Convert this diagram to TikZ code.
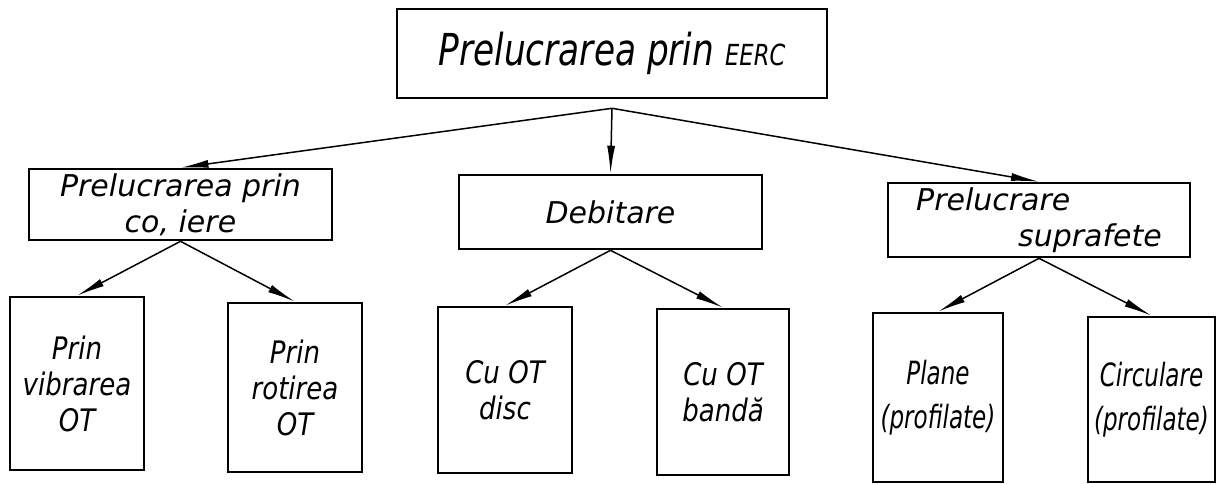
\documentclass[tikz,border=0pt]{standalone}
\usepackage{fontspec}
\setmainfont{DejaVu Sans}
% narrow variants for the tall lettering
\newfontfamily\rootfont{DejaVu Sans}[FakeStretch=0.78]
\newfontfamily\leaffont{DejaVu Sans}[FakeStretch=0.84]
\newfontfamily\profont{DejaVu Sans}[FakeStretch=0.72]
\usetikzlibrary{arrows.meta}
\begin{document}
\begin{tikzpicture}[x=1pt,y=-1pt,
  box/.style={draw, line width=2.6pt, inner sep=0pt, align=center},
  lvlzero/.style={box, font=\rootfont\fontsize{44}{50}\selectfont\itshape},
  lvlone/.style={box, font=\fontsize{30}{36}\selectfont\itshape},
  lvltwo/.style={box, font=\leaffont\fontsize{31}{36}\selectfont\itshape},
  lvltwonarrow/.style={box, font=\profont\fontsize{32}{44}\selectfont\itshape},
  link/.style={line width=1.5pt, -{Latex[length=28pt,width=8pt]}}]
\useasboundingbox (0,0) rectangle (1216,484);

% root
\node[lvlzero, minimum width=430pt, minimum height=89pt] (root) at (612,53.5)
  {Prelucrarea prin {\fontsize{29}{29}\selectfont EERC}};
\coordinate (hub) at ([yshift=-9pt]root.south);

% first level
\node[lvlone, minimum width=303pt, minimum height=71pt] (cav) at (180.5,204.5)
  {Prelucrarea prin\\co, iere};
\node[lvlone, minimum width=303pt, minimum height=74pt] (deb) at (610.5,212)
  {Debitare};
\node[lvlone, align=left, minimum width=302pt, minimum height=74pt] (sup) at (1039,220)
  {Prelucrare\\\hspace*{3.4em}suprafete};

% second level
\node[lvltwo, minimum width=134pt, minimum height=173pt] (vib) at (77,383.5)
  {Prin\\vibrarea\\OT};
\node[lvltwo, minimum width=134pt, minimum height=169pt] (rot) at (295,387.5)
  {Prin\\rotirea\\OT};
\node[lvltwo, minimum width=134pt, minimum height=166pt] (disc) at (505,390)
  {Cu OT\\disc};
\node[lvltwo, minimum width=132pt, minimum height=166pt] (band) at (723,392)
  {Cu OT\\bandă};
\node[lvltwonarrow, minimum width=130pt, minimum height=169pt] (plane) at (938,397.5)
  {Plane\\(profilate)};
\node[lvltwonarrow, minimum width=127pt, minimum height=165pt] (circ) at (1151.5,399.5)
  {Circulare\\(profilate)};

% connectors
\draw[link] (hub) -- (cav.north);
\draw[link] (hub) -- (deb.north);
\draw[link] (hub) -- (sup.north);
\draw[link] (cav.south) -- (vib.north);
\draw[link] (cav.south) -- (rot.north);
\draw[link] (deb.south) -- (disc.north);
\draw[link] (deb.south) -- (band.north);
\draw[link] (sup.south) -- (plane.north);
\draw[link] (sup.south) -- (circ.north);
\end{tikzpicture}
\end{document}
